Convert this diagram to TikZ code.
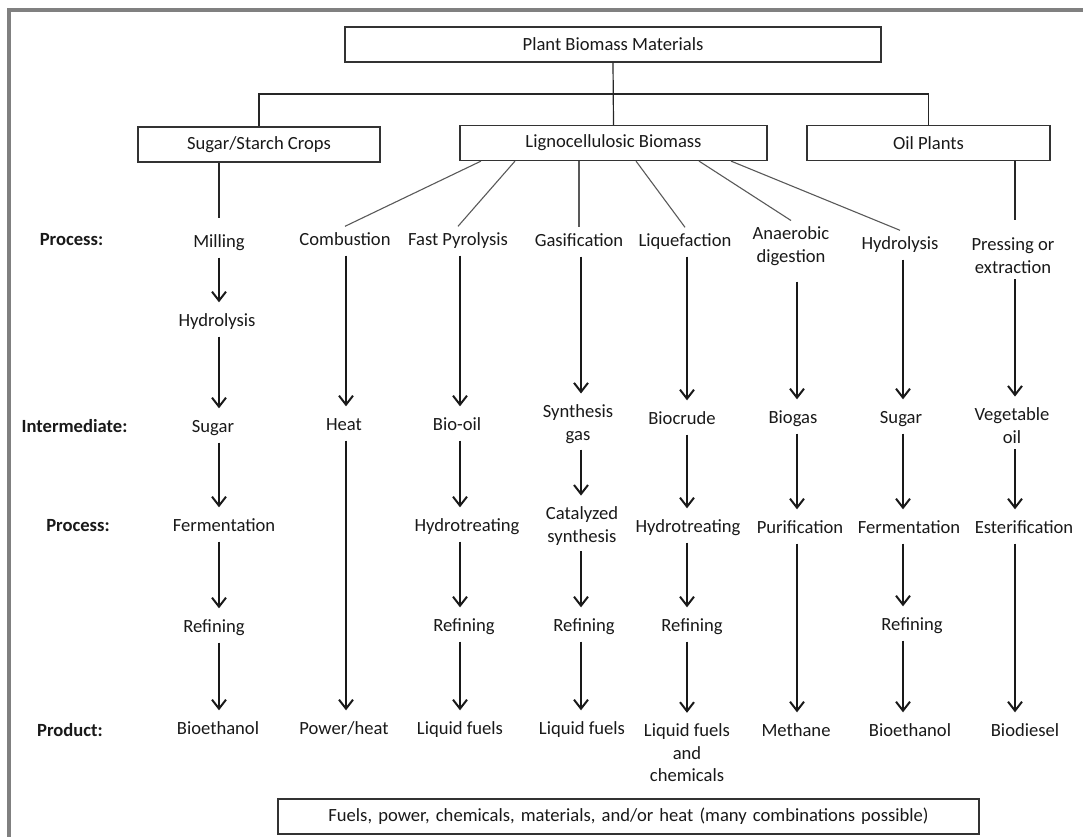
\documentclass[tikz,border=0pt]{standalone}
\usepackage{fontspec}
\setmainfont{Carlito}
\usetikzlibrary{arrows.meta}
\begin{document}
\begin{tikzpicture}[x=1pt,y=-1pt,
  base/.style={font=\fontsize{18.6}{22.5}\selectfont, text=black!90, align=center, inner xsep=2pt, inner ysep=6pt},
  txt/.style={base, text height=13pt, text depth=4pt},
  txtm/.style={base},
  lbl/.style={txt, font=\fontsize{18.6}{22.5}\selectfont\bfseries},
  box/.style={draw=black!80, line width=1.2pt, minimum height=35pt, inner sep=0pt,
    font=\fontsize{18.6}{22.5}\selectfont, text=black!90},
  link/.style={draw=black!65, line width=1.1pt},
  tree/.style={draw=black!85, line width=1.2pt},
  arr/.style={line width=2pt, draw=black!90, -{Straight Barb[length=9pt,width=14pt]}, shorten >=5pt},
]
\clip (0,0) rectangle (1083,836);
% outer frame
\draw[black!50, line width=3.5pt] (9,10) rectangle (1100,860);

% feedstock boxes
\node[box, minimum width=536pt] (plant) at (613,44.5) {Plant Biomass Materials};
\node[box, minimum width=242pt] (sugarbox) at (259,144.5) {Sugar/Starch Crops};
\node[box, minimum width=307pt] (ligno) at (613.5,143) {Lignocellulosic Biomass};
\node[box, minimum width=243pt] (oilbox) at (928.5,143) {Oil Plants};
\node[box, minimum width=701pt] (summary) at (628.5,816.5) {\spaceskip=0.33em plus 0.1em Fuels, power, chemicals, materials, and/or heat (many combinations possible)};

\coordinate (bar) at (613.5,94);
\draw[tree] (plant.south) -- (ligno.north);
\draw[tree] (sugarbox.north) |- (bar) -| (oilbox.north);

% row labels
\node[lbl] (lp1) at (71.5,241) {Process:};
\node[lbl] (li) at (74.5,428) {Intermediate:};
\node[lbl] (lp2) at (78,527) {Process:};
\node[lbl] (lpr) at (70,732) {Product:};

% column axes
\coordinate (c1) at (219,0);
\coordinate (c2) at (346,0);
\coordinate (c3) at (460,0);
\coordinate (c4) at (581,0);
\coordinate (c5) at (687,0);
\coordinate (c6) at (797,0);
\coordinate (c7) at (903,0);
\coordinate (c8) at (1015,0);

% first process row
\node[txt] (mill) at (219,243) {Milling};
\node[txt] (comb) at (345,241) {Combustion};
\node[txt] (pyro) at (458,241) {Fast Pyrolysis};
\node[txt] (gasi) at (579,242) {Gasification};
\node[txt] (liqu) at (685,242) {Liquefaction};
\node[txtm] (anae) at (791,246) {Anaerobic\\digestion};
\node[txt] (hyd2) at (900,245) {Hydrolysis};
\node[txtm] (pres) at (1013,255.5) {Pressing or\\extraction};
\node[txt] (hyd1) at (217,322) {Hydrolysis};

% intermediates
\node[txt] (sug1) at (213,428) {Sugar};
\node[txt] (heat) at (344,426) {Heat};
\node[txt] (biooil) at (457,426) {Bio-oil};
\node[txtm] (syng) at (578,424) {Synthesis\\gas};
\node[txt] (bcru) at (682,420) {Biocrude};
\node[txt] (bgas) at (793,419) {Biogas};
\node[txt] (sug2) at (901,419) {Sugar};
\node[txtm] (vego) at (1012,425.5) {Vegetable\\oil};

% second process row
\node[txt] (ferm1) at (224,527) {Fermentation};
\node[txt] (hyt1) at (467,527) {Hydrotreating};
\node[txtm] (cats) at (582,526) {Catalyzed\\synthesis};
\node[txt] (hyt2) at (688,528) {Hydrotreating};
\node[txt] (puri) at (800,529) {Purification};
\node[txt] (ferm2) at (909,529) {Fermentation};
\node[txt] (este) at (1024,529) {Esterification};

% refining
\node[txt] (ref1) at (214,628) {Refining};
\node[txt] (ref3) at (464,627) {Refining};
\node[txt] (ref4) at (584,627) {Refining};
\node[txt] (ref5) at (692,627) {Refining};
\node[txt] (ref7) at (912,626) {Refining};

% products
\node[txt] (prod1) at (218,730) {Bioethanol};
\node[txt] (prod2) at (344,730) {Power/heat};
\node[txt] (prod3) at (460,730) {Liquid fuels};
\node[txt] (prod4) at (582,730) {Liquid fuels};
\node[txtm] (prod5) at (687,753) {Liquid fuels\\and\\chemicals};
\node[txt] (prod6) at (796,732) {Methane};
\node[txt] (prod7) at (910,732) {Bioethanol};
\node[txt] (prod8) at (1025,732) {Biodiesel};

% feedstock to process links
\draw[tree, shorten >=10pt] (sugarbox.south -| c1) -- (mill.north -| c1);
\draw[tree, shorten >=12pt] (oilbox.south -| c8) -- (pres.north -| c8);
\draw[link] ([xshift=-132.5pt]ligno.south) -- (comb.north);
\draw[link] ([xshift=-98.5pt]ligno.south) -- (pyro.north);
\draw[link] (ligno.south -| gasi.north) -- (gasi.north);
\draw[link] ([xshift=22.5pt]ligno.south) -- (liqu.north);
\draw[link] ([xshift=85.5pt]ligno.south) -- (anae.north);
\draw[link] ([xshift=117.5pt]ligno.south) -- (hyd2.north);

% process chains
\draw[arr] (mill.south -| c1) -- (hyd1.north -| c1);
\draw[arr] (hyd1.south -| c1) -- (sug1.north -| c1);
\draw[arr] (sug1.south -| c1) -- (ferm1.north -| c1);
\draw[arr] (ferm1.south -| c1) -- (ref1.north -| c1);
\draw[arr] (ref1.south -| c1) -- (prod1.north -| c1);

\draw[arr] (comb.south -| c2) -- (heat.north -| c2);
\draw[arr] (heat.south -| c2) -- (prod2.north -| c2);

\draw[arr] (pyro.south -| c3) -- (biooil.north -| c3);
\draw[arr] (biooil.south -| c3) -- (hyt1.north -| c3);
\draw[arr] (hyt1.south -| c3) -- (ref3.north -| c3);
\draw[arr] (ref3.south -| c3) -- (prod3.north -| c3);

\draw[arr] (gasi.south -| c4) -- (syng.north -| c4);
\draw[arr] (syng.south -| c4) -- (cats.north -| c4);
\draw[arr] (cats.south -| c4) -- (ref4.north -| c4);
\draw[arr] (ref4.south -| c4) -- (prod4.north -| c4);

\draw[arr] (liqu.south -| c5) -- (bcru.north -| c5);
\draw[arr] (bcru.south -| c5) -- (hyt2.north -| c5);
\draw[arr] (hyt2.south -| c5) -- (ref5.north -| c5);
\draw[arr] (ref5.south -| c5) -- (prod5.north -| c5);

\draw[arr, shorten <=10pt] (anae.south -| c6) -- (bgas.north -| c6);
\draw[arr] (bgas.south -| c6) -- (puri.north -| c6);
\draw[arr] (puri.south -| c6) -- (prod6.north -| c6);

\draw[arr] (hyd2.south -| c7) -- (sug2.north -| c7);
\draw[arr] (sug2.south -| c7) -- (ferm2.north -| c7);
\draw[arr] (ferm2.south -| c7) -- (ref7.north -| c7);
\draw[arr] (ref7.south -| c7) -- (prod7.north -| c7);

\draw[arr] (pres.south -| c8) -- (vego.north -| c8);
\draw[arr] (vego.south -| c8) -- (este.north -| c8);
\draw[arr] (este.south -| c8) -- (prod8.north -| c8);
\end{tikzpicture}
\end{document}
